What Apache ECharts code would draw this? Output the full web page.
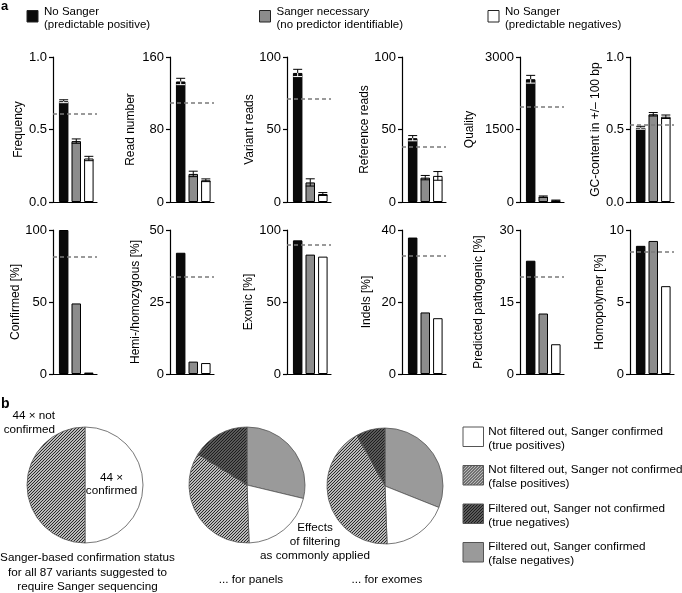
<!DOCTYPE html>
<html><head><meta charset="utf-8">
<script src="https://cdn.jsdelivr.net/npm/echarts@6/dist/echarts.min.js"></script>
<style>html,body{margin:0;padding:0;background:#fff}#c{width:682px;height:593px}</style>
</head><body><div id="c"></div>
<script>
// ---------- DATA ----------
const groupLabels = ['No Sanger\n(predictable positive)', 'Sanger necessary\n(no predictor identifiable)', 'No Sanger\n(predictable negatives)'];
const panelNames = ['Frequency', 'Read number', 'Variant reads', 'Reference reads', 'Quality', 'GC-content in +/\u2013 100 bp',
  'Confirmed [%]', 'Hemi-/homozygous [%]', 'Exonic [%]', 'Indels [%]', 'Predicted pathogenic [%]', 'Homopolymer [%]'];

const frequencyValues = [0.695, 0.42, 0.30];
const frequencyErrors = [0.01, 0.015, 0.015];
const readNumberValues = [133, 31, 24];
const readNumberErrors = [3.5, 3, 1.5];
const variantReadsValues = [89, 13.5, 5.5];
const variantReadsErrors = [2.5, 2.5, 1];
const referenceReadsValues = [44, 16.8, 18];
const referenceReadsErrors = [1.8, 1.5, 3];
const qualityValues = [2540, 110, 30];
const qualityErrors = [80, 15, 10];
const gcValues = [0.512, 0.605, 0.588];
const gcErrors = [0.01, 0.012, 0.012];
const confirmedValues = [100, 49, 1];
const hemiValues = [42.1, 4.3, 3.8];
const exonicValues = [92.8, 82.9, 81.5];
const indelValues = [37.9, 17.1, 15.5];
const pathogenicValues = [23.6, 12.6, 6.2];
const homopolymerValues = [8.9, 9.24, 6.1];

const thresholds = [0.615, 110, 71, 38, 1970, 0.533, 81.5, 33.8, 90, 32.9, 20.2, 8.5];
const axisMax = [1, 160, 100, 100, 3000, 1, 100, 50, 100, 40, 30, 10];
const tickLabels = [['0.0','0.5','1.0'], ['0','80','160'], ['0','50','100'], ['0','50','100'], ['0','1500','3000'], ['0.0','0.5','1.0'],
  ['0','50','100'], ['0','25','50'], ['0','50','100'], ['0','20','40'], ['0','15','30'], ['0','5','10']];

const pieCategories = ['Filtered out, Sanger confirmed', 'Not filtered out, Sanger confirmed', 'Not filtered out, Sanger not confirmed', 'Filtered out, Sanger not confirmed'];
const allVariantsPie = [44, 44]; // confirmed, not confirmed
const panelsPie = [25, 18, 30, 14];
const exomesPie = [27, 16, 37, 7];
const legendItems = ['Not filtered out, Sanger confirmed\n(true positives)', 'Not filtered out, Sanger not confirmed\n(false positives)',
  'Filtered out, Sanger not confirmed\n(true negatives)', 'Filtered out, Sanger confirmed\n(false negatives)'];

// ---------- STYLE ----------
const FONT = '"Liberation Sans", Arial, Helvetica, sans-serif';
const barColors = ['#0a0a0a', '#8c8c8c', '#ffffff'];
const pieGray = '#9a9a9a';
function hatch(bg, fg, s, w) {
  const c = document.createElement('canvas'); c.width = s; c.height = s;
  const g = c.getContext('2d'); g.fillStyle = bg; g.fillRect(0, 0, s, s);
  g.strokeStyle = fg; g.lineWidth = w;
  g.beginPath();
  g.moveTo(-1, s + 1); g.lineTo(s + 1, -1);
  g.moveTo(-1, 1); g.lineTo(1, -1);
  g.moveTo(s - 1, s + 1); g.lineTo(s + 1, s - 1);
  g.stroke();
  return { image: c, repeat: 'repeat' };
}
const lightHatch = hatch('#ffffff', '#222222', 3, 1.2);
const darkHatch = hatch('#777777', '#1a1a1a', 3, 1.2);

const panelValues = [frequencyValues, readNumberValues, variantReadsValues, referenceReadsValues, qualityValues, gcValues,
  confirmedValues, hemiValues, exonicValues, indelValues, pathogenicValues, homopolymerValues];
const panelErrors = [frequencyErrors, readNumberErrors, variantReadsErrors, referenceReadsErrors, qualityErrors, gcErrors];

const axisXs = [53, 170, 287, 402, 520, 630];
const nameGaps = [28.5, 33, 31, 31.5, 44.5, 26.3, 29.3, 28.5, 32.3, 29.3, 35.3, 23];

const grids = [], xAxes = [], yAxes = [], series = [];
panelValues.forEach((vals, i) => {
  const col = i % 6, row = Math.floor(i / 6);
  grids.push({ left: axisXs[col], width: 44, top: row === 0 ? 57 : 230, height: row === 0 ? 145 : 144 });
  xAxes.push({ gridIndex: i, type: 'value', min: -0.85, max: 2.65,
    axisLine: { show: true, onZero: false, lineStyle: { color: '#000', width: 1.2 } },
    axisTick: { show: false }, axisLabel: { show: false }, splitLine: { show: false } });
  const mx = axisMax[i], labels = tickLabels[i];
  yAxes.push({ gridIndex: i, type: 'value', min: 0, max: mx, interval: mx / 2,
    axisLine: { show: true, onZero: false, lineStyle: { color: '#000', width: 1.2 } },
    axisTick: { show: true, length: 4, lineStyle: { color: '#000', width: 1.2 } },
    axisLabel: { fontSize: 13, fontFamily: FONT, color: '#000', margin: 6,
      formatter: v => labels[Math.round(v / (mx / 2))] },
    splitLine: { show: false },
    name: panelNames[i], nameLocation: 'middle', nameGap: nameGaps[i],
    nameTextStyle: { fontSize: 12, fontFamily: FONT, color: '#000' } });
  series.push({ type: 'bar', xAxisIndex: i, yAxisIndex: i, barWidth: 9.5, z: 2,
    data: vals.map((v, k) => ({ value: [k, v], itemStyle: { color: barColors[k], borderColor: '#000', borderWidth: 1 } })),
    markLine: { silent: true, symbol: ['none', 'none'], label: { show: false },
      lineStyle: { color: '#7a7a7a', type: [4, 3], width: 1.5 },
      data: [{ yAxis: thresholds[i] }] } });
  if (panelErrors[i]) {
    const errs = panelErrors[i];
    series.push({ type: 'custom', xAxisIndex: i, yAxisIndex: i, z: 3,
      data: vals.map((v, k) => [k, v, errs[k]]),
      encode: { x: 0, y: 1 },
      renderItem: (params, api) => {
        const k = api.value(0), v = api.value(1), e = api.value(2);
        const mid = api.coord([k, v]), hi = api.coord([k, v + e]), lo = api.coord([k, Math.max(0, v - e)]);
        const hw = 4.5, lowColor = k === 0 ? '#ffffff' : '#000000';
        return { type: 'group', children: [
          { type: 'line', shape: { x1: mid[0], y1: mid[1], x2: hi[0], y2: hi[1] }, style: { stroke: '#000', lineWidth: 1 } },
          { type: 'line', shape: { x1: hi[0] - hw, y1: hi[1], x2: hi[0] + hw, y2: hi[1] }, style: { stroke: '#000', lineWidth: 1 } },
          { type: 'line', shape: { x1: mid[0], y1: mid[1], x2: lo[0], y2: lo[1] }, style: { stroke: lowColor, lineWidth: 1 } },
          { type: 'line', shape: { x1: lo[0] - hw, y1: lo[1], x2: lo[0] + hw, y2: lo[1] }, style: { stroke: lowColor, lineWidth: 1 } }
        ] };
      } });
  }
});

const pieStyle = { borderColor: '#555', borderWidth: 0.8 };
const sliceColors = [pieGray, '#ffffff', lightHatch, darkHatch];
function pieSeries(center, vals, colors) {
  return { type: 'pie', center: center, radius: 58, startAngle: 90, clockwise: true, silent: true, z: 1,
    label: { show: false }, labelLine: { show: false }, emphasis: { disabled: true },
    data: vals.map((v, k) => ({ value: v, name: 'p' + k, itemStyle: Object.assign({ color: colors[k] }, pieStyle) })) };
}
series.push(pieSeries([85, 485], allVariantsPie, ['#ffffff', lightHatch]));
series.push(pieSeries([247, 485], panelsPie, sliceColors));
series.push(pieSeries([385, 486], exomesPie, sliceColors));

// ---------- GRAPHICS (legends & annotations) ----------
const graphic = [];
function txt(x, y, text, opts) {
  graphic.push({ type: 'text', x: x, y: y, z: 100, silent: true,
    style: Object.assign({ text: text, fontSize: 11.7, fontFamily: FONT, fill: '#000', align: 'left', verticalAlign: 'top', lineHeight: 14 }, opts || {}) });
}
function box(x, y, w, h, fill, stroke) {
  graphic.push({ type: 'rect', x: x, y: y, z: 100, silent: true, shape: { x: 0, y: 0, width: w, height: h },
    style: { fill: fill, stroke: stroke || '#222', lineWidth: 1 } });
}
txt(1, -1, 'a', { fontSize: 13, fontWeight: 'bold' });
txt(1, 397, 'b', { fontSize: 14, fontWeight: 'bold' });
const topBoxX = [27, 259.5, 488];
groupLabels.forEach((t, k) => {
  box(topBoxX[k], 10.5, 11, 11.5, barColors[k], '#222');
  txt(topBoxX[k] + 17, 4.5, t, { fontSize: 11.5, lineHeight: 13.8 });
});
// bottom legend
const legFills = ['#ffffff', lightHatch, darkHatch, pieGray];
const legTops = [427, 465.5, 504, 542.5];
legendItems.forEach((t, k) => {
  box(463, legTops[k], 20.5, 19.5, legFills[k], '#555');
  txt(488.3, legTops[k] - 2.7, t, { lineHeight: 14 });
});
txt(55, 409.3, '44 \u00d7 not\nconfirmed', { align: 'right', lineHeight: 13.5 });
txt(111.5, 471, '44 \u00d7\nconfirmed', { align: 'center', lineHeight: 13.5 });
txt(87.5, 551, 'Sanger-based confirmation status\nfor all 87 variants suggested to\nrequire Sanger sequencing', { align: 'center', lineHeight: 14.3 });
txt(315, 520.7, 'Effects\nof filtering\nas commonly applied', { align: 'center', lineHeight: 14 });
txt(251, 573, '... for panels', { align: 'center' });
txt(387, 573, '... for exomes', { align: 'center' });

const chart = echarts.init(document.getElementById('c'), null, { renderer: 'canvas' });
chart.setOption({ animation: false, backgroundColor: '#fff', grid: grids, xAxis: xAxes, yAxis: yAxes, series: series, graphic: graphic });
</script></body></html>
